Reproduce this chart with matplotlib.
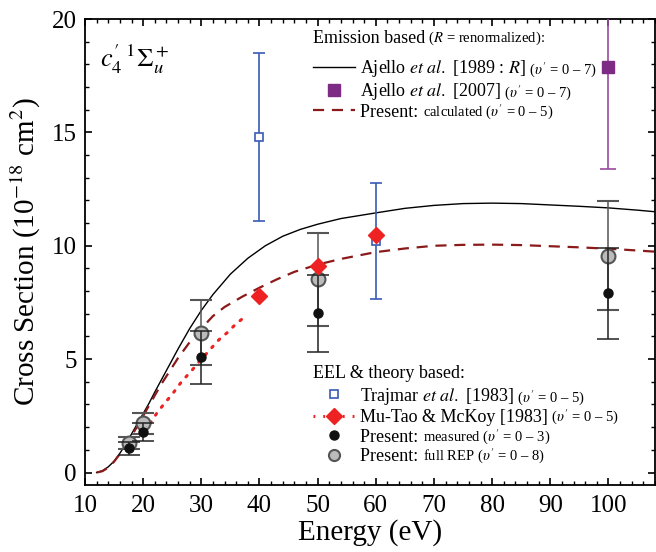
import numpy as np
import matplotlib.pyplot as plt
from matplotlib.lines import Line2D

plt.rcParams['font.family'] = ['Liberation Serif', 'DejaVu Serif']
plt.rcParams['mathtext.fontset'] = 'stix'

# Ajello et al. [1989 : R] - solid black
aj89_E = [12, 13, 14, 15, 16, 17, 18, 19, 20, 21, 22, 24, 26, 28, 30, 32, 35, 38, 41, 44,
          47, 50, 54, 60, 65, 70, 75, 80, 85, 90, 95, 100, 105, 108]
aj89_cs = [0, 0.08, 0.25, 0.5, 0.85, 1.25, 1.7, 2.15, 2.6, 3.05, 3.55, 4.5, 5.45, 6.35, 7.15,
           7.85, 8.75, 9.45, 10.0, 10.42, 10.72, 10.95, 11.2, 11.45, 11.65, 11.78, 11.86, 11.88,
           11.86, 11.8, 11.74, 11.67, 11.57, 11.5]

# Present calculated - dashed dark red
calc_E = [12, 13, 14, 15, 16, 17, 18, 19, 20, 21, 22, 23, 24, 26, 28, 30, 32, 34, 37, 40, 43,
          46, 50, 54, 60, 65, 70, 75, 80, 85, 90, 95, 100, 105, 108]
calc_cs = [0, 0.06, 0.22, 0.48, 0.82, 1.2, 1.6, 2.05, 2.5, 2.95, 3.4, 3.85, 4.25, 5.05, 5.75,
           6.35, 6.9, 7.3, 7.75, 8.15, 8.52, 8.85, 9.17, 9.42, 9.72, 9.88, 10.0, 10.04, 10.05,
           10.03, 9.98, 9.93, 9.87, 9.79, 9.74]

# Mu-Tao & McKoy [1983]
mutao_curve_E = [21.2, 22.3, 23.6, 24.9, 26.7, 28.2, 29.4, 31.7, 33.0, 34.5, 35.9, 37.3]
mutao_curve_cs = [2.17, 2.6, 3.03, 3.42, 4.04, 4.45, 4.82, 5.48, 5.85, 6.18, 6.54, 6.83]
mutao_E = [40, 50, 60]
mutao_cs = [7.8, 9.12, 10.47]

# Trajmar et al. [1983]
traj_E = [40, 60]
traj_cs = [14.8, 10.2]
traj_err = [3.7, 2.55]

# Ajello et al. [2007]
aj07_E = [100]
aj07_cs = [17.9]
aj07_err = [4.5]

# Present: measured / full REP
pres_E = [17.5, 20, 30, 50, 100]
meas_cs = [1.07, 1.8, 5.08, 7.02, 7.9]
meas_err = [0.28, 0.4, 1.18, 1.7, 2.0]
rep_cs = [1.3, 2.18, 6.17, 8.52, 9.56]
rep_err = [0.27, 0.46, 1.42, 2.06, 2.4]

red = '#EE2222'
dred = '#8B1A1A'
blue = '#3A5BB5'
purple = '#7D2B85'

fig = plt.figure(figsize=(6.56, 5.52), dpi=100)
ax = fig.add_axes([85/656, 67/552, 570/656, 466/552])

ax.plot(aj89_E, aj89_cs, color='black', lw=1.0, zorder=2)
ax.plot(calc_E, calc_cs, color=dred, lw=1.6, dashes=(5, 3.5), zorder=2)
ax.plot(mutao_curve_E, mutao_curve_cs, color=red, lw=2.2, dashes=(0.6, 2.6),
        dash_capstyle='round', zorder=2)

ax.errorbar(aj07_E, aj07_cs, yerr=aj07_err, fmt='s', color=purple, ecolor='#9A4AA0',
            ms=8, capsize=6, elinewidth=1.2, capthick=1.2, zorder=3)
ax.errorbar(traj_E, traj_cs, yerr=traj_err, fmt='s', mfc='white', mec=blue, ecolor=blue,
            ms=6, mew=1.2, capsize=4, elinewidth=1.2, capthick=1.2, zorder=3)

ax.errorbar(pres_E, rep_cs, yerr=rep_err, fmt='o', mfc='#BBBBBB', mec='#555555', mew=1.5,
            ecolor='#555555', ms=10, capsize=8, elinewidth=1.1, capthick=1.1, zorder=4)
ax.errorbar(pres_E, meas_cs, yerr=meas_err, fmt='o', mfc='#111111', mec='#111111',
            ecolor='#222222', ms=6.5, capsize=8, elinewidth=1.1, capthick=1.1, zorder=5)

ax.plot(mutao_E, mutao_cs, 'D', color=red, ms=8, zorder=6)

ax.set_xlim(10, 108)
ax.set_ylim(-0.55, 20)
ax.set_xticks(np.arange(10, 101, 10))
ax.set_xticks(np.arange(10, 109, 2), minor=True)
ax.set_yticks([0, 5, 10, 15, 20])
ax.set_yticks(np.arange(0, 21, 1), minor=True)
ax.tick_params(which='both', direction='in', top=True, right=True, labelsize=18)
ax.tick_params(which='major', length=5, width=1.2)
ax.tick_params(which='minor', length=2.8, width=1.0)
ax.tick_params(axis='y', pad=6)
ax.tick_params(axis='x', pad=7)
for s in ax.spines.values():
    s.set_linewidth(1.3)

ax.set_xlabel('Energy (eV)', fontsize=21, labelpad=2)
ax.set_ylabel('Cross Section (10$^{-18}$ cm$^2$)', fontsize=21, labelpad=6)

ax.text(0.026, 0.898, r"$c_4'\,{}^1\Sigma_u^+$", transform=ax.transAxes, fontsize=19,
        va='baseline', ha='left')

fs_big = 13
fs_small = 10.5


def add_small(artist, s):
    ax.annotate(s, xy=(1, 0), xycoords=artist, fontsize=fs_small, ha='left', va='bottom',
                zorder=10)


# upper legend
t = ax.text(0.4, 0.9485, 'Emission based', transform=ax.transAxes, fontsize=fs_big,
            va='baseline')
add_small(t, r' ($R$ = renormalized):')

h1 = [Line2D([], [], color='black', lw=1.0),
      Line2D([], [], ls='none', marker='s', color=purple, ms=8),
      Line2D([], [], color=dred, lw=1.6, dashes=(5, 3.5))]
l1 = [r'Ajello $\it{et\ al.}$ [1989 : $R$]', r'Ajello $\it{et\ al.}$ [2007]',
      'Present: ']
small1 = [r" ($\upsilon'$ = 0 – 7)", r" ($\upsilon'$ = 0 – 7)", r"calculated ($\upsilon'$ = 0 – 5)"]
leg1 = ax.legend(h1, l1, loc='upper left', bbox_to_anchor=(0.4, 0.916), frameon=False,
                 fontsize=fs_big, borderpad=0, borderaxespad=0, handlelength=2.3,
                 handletextpad=0.3, labelspacing=0.1, numpoints=1)
ax.add_artist(leg1)

# lower legend
t2 = ax.text(0.4, 0.23, 'EEL & theory based:', transform=ax.transAxes, fontsize=fs_big,
             va='baseline')
h2 = [Line2D([], [], ls='none', marker='s', mfc='white', mec=blue, mew=1.2, ms=6),
      Line2D([], [], color=red, lw=2.2, dashes=(0.6, 2.6), marker='D', ms=8),
      Line2D([], [], ls='none', marker='o', color='#111111', ms=6.5),
      Line2D([], [], ls='none', marker='o', mfc='#BBBBBB', mec='#555555', mew=1.5, ms=8)]
l2 = [r'Trajmar $\it{et\ al.}$ [1983]', 'Mu-Tao & McKoy [1983]', 'Present: ', 'Present: ']
small2 = [r" ($\upsilon'$ = 0 – 5)", r" ($\upsilon'$ = 0 – 5)", r"measured ($\upsilon'$ = 0 – 3)",
          r"full REP ($\upsilon'$ = 0 – 8)"]
leg2 = ax.legend(h2, l2, loc='upper left', bbox_to_anchor=(0.4, 0.213), frameon=False,
                 fontsize=fs_big, borderpad=0, borderaxespad=0, handlelength=2.3,
                 handletextpad=0.3, labelspacing=0.14, numpoints=1)

for lg, sm in ((leg1, small1), (leg2, small2)):
    for txt, s in zip(lg.get_texts(), sm):
        add_small(txt, s)

fig.savefig('out.png', dpi=100)
